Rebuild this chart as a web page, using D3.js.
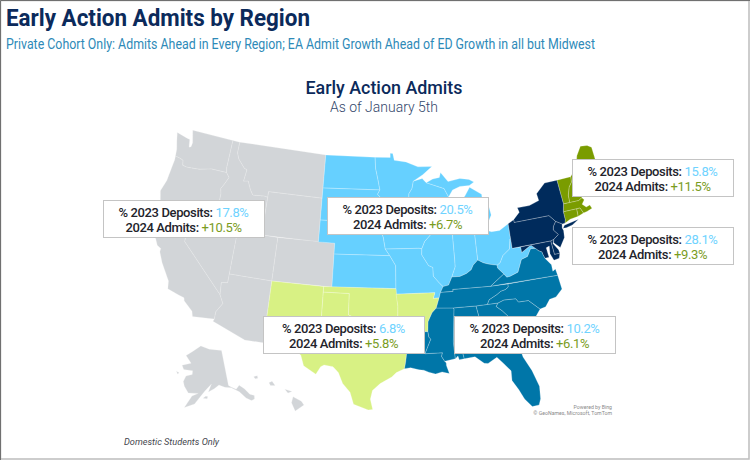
<!DOCTYPE html>
<html>
<head>
<meta charset="utf-8">
<script src="https://cdn.jsdelivr.net/npm/d3@7"></script>
<style>
	html, body { margin: 0; padding: 0; background: #fff; }
	svg { display: block; font-family: Roboto, sans-serif; }
</style>
</head>
<body>
<div id="chart"></div>
<script>
// region values
var regionNames = ['West', 'Midwest', 'New England', 'Mid-Atlantic', 'Southwest', 'Southeast'];
var deposits2023 = ['17.8%', '20.5%', '15.8%', '28.1%', '6.8%', '10.2%'];
var admits2024 = ['+10.5%', '+6.7%', '+11.5%', '+9.3%', '+5.8%', '+6.1%'];

// which state belongs to which region
var westStates = ['WA', 'OR', 'CA', 'NV', 'ID', 'MT', 'WY', 'UT', 'AZ', 'CO', 'AK', 'HI'];
var midwestStates = ['ND', 'SD', 'NE', 'KS', 'MN', 'IA', 'MO', 'WI', 'IL', 'IN', 'MI', 'OH', 'WV'];
var newEnglandStates = ['ME', 'NH', 'VT', 'MA', 'CT', 'RI'];
var midAtlanticStates = ['NY', 'PA', 'NJ', 'DE', 'MD'];
var southwestStates = ['NM', 'TX', 'OK', 'AR'];
var southeastStates = ['LA', 'MS', 'AL', 'GA', 'FL', 'SC', 'NC', 'TN', 'KY', 'VA'];

// rough state outlines, lon/lat
var stateOutlines = {
	WA: [[[-124.7,48.4],[-123.2,48.15],[-122.8,48.1],[-122.6,47.4],[-122.35,47.5],[-122.3,47.9],[-122.75,49],[-117.03,49],[-117.04,46.42],[-116.92,45.995],[-118.98,46],[-119.3,45.93],[-120.5,45.7],[-121.2,45.65],[-122.2,45.58],[-122.75,45.65],[-122.9,46.1],[-123.4,46.2],[-124,46.27],[-124.1,46.9],[-124.4,47.6]]],
	OR: [[[-124,46.27],[-123.4,46.2],[-122.9,46.1],[-122.75,45.65],[-122.2,45.58],[-121.2,45.65],[-120.5,45.7],[-119.3,45.93],[-118.98,46],[-116.92,45.995],[-116.46,45.6],[-116.85,44.95],[-117.2,44.45],[-117.03,44],[-117.03,42],[-124.2,42],[-124.55,42.84],[-124.15,43.9],[-124.05,45],[-123.95,45.9]]],
	CA: [[[-124.2,42],[-120,42],[-120,39],[-114.63,35],[-114.13,34.26],[-114.72,33.4],[-114.72,32.72],[-117.12,32.53],[-117.3,33],[-118.4,33.75],[-118.5,34.03],[-119.2,34.15],[-120.5,34.45],[-120.65,35.15],[-121.9,36.6],[-122.5,37.5],[-122.5,37.8],[-123,38],[-123.75,39],[-123.85,39.8],[-124.35,40.4],[-124.1,41]]],
	NV: [[[-120,42],[-114.04,42],[-114.04,36.2],[-114.75,36.1],[-114.63,35],[-120,39]]],
	ID: [[[-117.03,49],[-116.05,49],[-116.05,48],[-115.7,47.45],[-114.7,46.7],[-114.35,46.65],[-114.5,45.55],[-113.9,45.65],[-113.45,44.95],[-113,44.45],[-111.5,44.55],[-111.05,44.48],[-111.05,42],[-117.03,42],[-117.03,44],[-117.2,44.45],[-116.85,44.95],[-116.46,45.6],[-116.92,45.995],[-117.04,46.42]]],
	MT: [[[-116.05,49],[-104.05,49],[-104.05,45],[-111.05,45],[-111.05,44.48],[-111.5,44.55],[-113,44.45],[-113.45,44.95],[-113.9,45.65],[-114.5,45.55],[-114.35,46.65],[-114.7,46.7],[-115.7,47.45],[-116.05,48]]],
	WY: [[[-111.05,45],[-104.05,45],[-104.05,41],[-111.05,41]]],
	UT: [[[-114.04,42],[-111.05,42],[-111.05,41],[-109.05,41],[-109.05,37],[-114.04,37]]],
	AZ: [[[-114.04,37],[-109.05,37],[-109.05,31.33],[-111.07,31.33],[-114.82,32.5],[-114.72,32.72],[-114.72,33.4],[-114.13,34.26],[-114.63,35],[-114.75,36.1],[-114.04,36.2]]],
	CO: [[[-109.05,41],[-102.05,41],[-102.05,37],[-109.05,37]]],
	NM: [[[-109.05,37],[-103,37],[-103,32],[-106.62,32],[-106.53,31.78],[-108.2,31.78],[-108.2,31.33],[-109.05,31.33]]],
	OK: [[[-103,37],[-94.62,37],[-94.43,35.4],[-94.48,33.64],[-95.5,33.9],[-96.6,33.85],[-97.2,33.9],[-98.1,34.13],[-99.2,34.3],[-100,34.56],[-100,36.5],[-103,36.5]]],
	TX: [[[-103,36.5],[-100,36.5],[-100,34.56],[-99.2,34.3],[-98.1,34.13],[-97.2,33.9],[-96.6,33.85],[-95.5,33.9],[-94.48,33.64],[-94.04,33.55],[-94.04,33.02],[-94.04,31.99],[-93.55,31.2],[-93.7,30.3],[-93.84,29.7],[-94.7,29.35],[-95.2,28.95],[-96.4,28.35],[-97.2,27.7],[-97.4,26.9],[-97.15,25.96],[-97.6,25.9],[-99.1,26.4],[-99.5,27.5],[-100.3,28.28],[-100.8,29.25],[-101.4,29.77],[-102.35,29.87],[-102.7,29.7],[-103.15,28.98],[-104.5,29.65],[-104.9,30.6],[-106.53,31.78],[-106.62,32],[-103,32]]],
	AR: [[[-94.62,36.5],[-90.15,36.5],[-90.37,35.99],[-89.7,36],[-90.1,35.1],[-90.6,34.7],[-91.1,33.9],[-91.17,33],[-94.04,33.02],[-94.04,33.55],[-94.48,33.64],[-94.43,35.4]]],
	LA: [[[-94.04,33.02],[-91.17,33],[-91.1,32.5],[-90.9,32.3],[-91.6,31],[-89.73,31],[-89.85,30.67],[-89.55,30.2],[-89.4,30.05],[-89.4,29.8],[-89.15,29.05],[-89.9,29.25],[-90.6,29.1],[-91.3,29.3],[-91.8,29.5],[-92.3,29.55],[-93.2,29.77],[-93.84,29.7],[-93.7,30.3],[-93.55,31.2],[-94.04,31.99]]],
	MS: [[[-90.1,35.1],[-88.2,35],[-88.1,34.9],[-88.47,31.9],[-88.4,30.37],[-89.55,30.2],[-89.85,30.67],[-89.73,31],[-91.6,31],[-90.9,32.3],[-91.1,32.5],[-91.17,33],[-91.1,33.9],[-90.6,34.7]]],
	AL: [[[-88.2,35],[-85.6,34.98],[-85.18,32.87],[-85,32.3],[-85.05,31.5],[-85,31],[-87.6,31],[-87.45,30.3],[-88,30.25],[-88.1,30.6],[-88.4,30.37],[-88.47,31.9],[-88.1,34.9]]],
	GA: [[[-85.6,34.98],[-83.1,35],[-83.35,34.7],[-82.75,34.25],[-81.9,33.4],[-81.4,32.6],[-81.1,32.1],[-80.85,32.03],[-81.3,31.2],[-81.45,30.72],[-82.05,30.37],[-82.2,30.57],[-84.86,30.7],[-85,31],[-85.05,31.5],[-85,32.3],[-85.18,32.87]]],
	FL: [[[-87.6,31],[-85,31],[-84.86,30.7],[-82.2,30.57],[-82.05,30.37],[-81.45,30.72],[-81.25,29.8],[-80.55,28.45],[-80.05,26.9],[-80.15,25.75],[-80.4,25.2],[-81.1,25.15],[-81.75,25.95],[-82.2,26.9],[-82.75,27.8],[-82.7,28.7],[-83.4,29.5],[-84,30.1],[-85,29.65],[-85.4,29.7],[-86.3,30.38],[-87.45,30.3]]],
	SC: [[[-83.35,34.7],[-83.1,35],[-82.4,35.2],[-81.05,35.15],[-80.8,34.82],[-79.67,34.8],[-78.55,33.85],[-79.2,33.2],[-80.4,32.5],[-80.85,32.03],[-81.1,32.1],[-81.4,32.6],[-81.9,33.4],[-82.75,34.25]]],
	NC: [[[-84.32,35],[-83.1,35],[-82.4,35.2],[-81.05,35.15],[-80.8,34.82],[-79.67,34.8],[-78.55,33.85],[-77.9,33.95],[-77.3,34.55],[-76.55,34.65],[-75.7,35.25],[-75.85,36.55],[-81.68,36.59],[-81.7,36.3],[-82.05,36.12],[-82.6,36.03],[-83.1,35.77],[-84.05,35.4]]],
	TN: [[[-90.1,35.1],[-89.7,36],[-89.5,36.5],[-88.05,36.5],[-88.07,36.68],[-83.68,36.6],[-81.68,36.59],[-81.7,36.3],[-82.05,36.12],[-82.6,36.03],[-83.1,35.77],[-84.05,35.4],[-84.32,35],[-85.6,34.98],[-88.2,35]]],
	KY: [[[-89.5,36.5],[-89.15,37],[-88.5,37.1],[-88.05,37.8],[-87.1,37.8],[-86.3,38],[-85.7,38.3],[-85.4,38.7],[-84.8,39.1],[-84.2,38.8],[-83.65,38.63],[-82.6,38.4],[-82.6,38.15],[-81.97,37.54],[-83.68,36.6],[-88.07,36.68],[-88.05,36.5]]],
	VA: [[[-83.68,36.6],[-75.85,36.55],[-75.95,37.15],[-76.3,37],[-76.3,37.6],[-76.9,38.3],[-77.05,38.7],[-77.1,38.9],[-77.5,39.1],[-77.75,39.32],[-78.35,39.4],[-78.87,38.76],[-79.65,38.58],[-80.3,37.5],[-81.25,37.25],[-81.68,37.2],[-81.97,37.54]]],
	WV: [[[-82.6,38.4],[-82.2,38.6],[-81.75,39.2],[-80.85,39.7],[-80.6,40.6],[-80.52,40.64],[-80.52,39.72],[-79.48,39.72],[-79.48,39.2],[-78.4,39.65],[-78.2,39.68],[-77.75,39.32],[-78.35,39.4],[-78.87,38.76],[-79.65,38.58],[-80.3,37.5],[-81.25,37.25],[-81.68,37.2],[-81.97,37.54],[-82.6,38.15]]],
	OH: [[[-84.8,41.7],[-83.45,41.73],[-82.7,41.5],[-81.7,41.5],[-80.52,41.98],[-80.52,40.64],[-80.6,40.6],[-80.85,39.7],[-81.75,39.2],[-82.2,38.6],[-82.6,38.4],[-83.65,38.63],[-84.2,38.8],[-84.8,39.1]]],
	IN: [[[-87.53,41.72],[-86.8,41.76],[-84.8,41.7],[-84.8,39.1],[-85.4,38.7],[-85.7,38.3],[-86.3,38],[-87.1,37.8],[-88.05,37.8],[-87.55,38.7],[-87.53,39.35]]],
	IL: [[[-87.53,41.72],[-87.53,39.35],[-87.55,38.7],[-88.05,37.8],[-88.5,37.1],[-89.15,37],[-89.5,37.3],[-90.2,38],[-90.2,38.8],[-90.7,39],[-91.45,40],[-91.4,40.55],[-91,41.2],[-90.2,41.8],[-90.65,42.5],[-87.8,42.5],[-87.65,42]]],
	MI: [[[-86.8,41.76],[-84.8,41.7],[-83.45,41.73],[-83.1,42.2],[-82.45,43],[-82.6,43.85],[-83.4,43.95],[-83.9,43.65],[-83.3,44.3],[-83.3,45],[-84.75,45.78],[-85.5,45],[-86.2,44.7],[-86.5,43.7],[-86.2,42.7]],
		[[-90.4,46.55],[-88.1,45.9],[-87.6,45.1],[-87,45.7],[-86,45.95],[-84.75,45.95],[-84.1,46.2],[-84.7,46.5],[-85.9,46.68],[-87.5,46.5],[-88.4,47.4],[-88.6,46.95],[-89.5,46.85]]],
	WI: [[[-92.1,46.75],[-90.9,46.95],[-90.4,46.55],[-88.1,45.9],[-87.6,45.1],[-88,44.55],[-87.4,44.9],[-87.55,44.2],[-87.9,43],[-87.8,42.5],[-90.65,42.5],[-91.15,42.9],[-91.25,43.5],[-91.9,44.3],[-92.8,44.75],[-92.75,45.6],[-92.3,46.1]]],
	MN: [[[-97.23,49],[-95.15,49],[-95.15,49.38],[-94.8,49.35],[-94.6,48.72],[-93,48.55],[-91.4,48.05],[-89.5,48],[-90.8,47.3],[-92.1,46.75],[-92.3,46.1],[-92.75,45.6],[-92.8,44.75],[-91.9,44.3],[-91.25,43.5],[-96.45,43.5],[-96.45,45.3],[-96.85,45.6],[-96.55,46],[-96.8,46.9],[-97.15,48]]],
	IA: [[[-91.25,43.5],[-96.45,43.5],[-96.6,42.5],[-96.1,41.7],[-95.85,40.6],[-91.73,40.6],[-91.4,40.55],[-91,41.2],[-90.2,41.8],[-90.65,42.5],[-91.15,42.9]]],
	MO: [[[-95.85,40.6],[-91.73,40.6],[-91.4,40.55],[-91.45,40],[-90.7,39],[-90.2,38.8],[-90.2,38],[-89.5,37.3],[-89.15,37],[-89.5,36.5],[-89.7,36],[-90.37,35.99],[-90.15,36.5],[-94.62,36.5],[-94.62,39.1],[-95.3,40]]],
	KS: [[[-102.05,40],[-95.3,40],[-94.62,39.1],[-94.62,37],[-102.05,37]]],
	NE: [[[-104.05,43],[-98.5,43],[-97.9,42.8],[-96.6,42.5],[-96.1,41.7],[-95.85,40.6],[-95.3,40],[-102.05,40],[-102.05,41],[-104.05,41]]],
	SD: [[[-104.05,45.94],[-96.55,46],[-96.85,45.6],[-96.45,45.3],[-96.45,43.5],[-96.6,42.5],[-97.9,42.8],[-98.5,43],[-104.05,43]]],
	ND: [[[-104.05,49],[-97.23,49],[-97.15,48],[-96.8,46.9],[-96.55,46],[-104.05,45.94]]],
	PA: [[[-80.52,41.98],[-79.76,42.27],[-79.76,42],[-75.35,42],[-74.7,41.36],[-75.1,40.95],[-75.2,40.65],[-74.72,40.15],[-75.4,39.8],[-75.8,39.72],[-80.52,39.72]]],
	NY: [[[-79.76,42.27],[-78.9,42.85],[-79.05,43.27],[-77.5,43.27],[-76.2,43.55],[-76.3,44.2],[-75,45],[-73.35,45],[-73.3,43.7],[-73.25,42.75],[-73.5,42.05],[-73.5,41.3],[-73.65,41],[-74,41],[-74.7,41.36],[-75.35,42],[-79.76,42]],
		[[-74,40.6],[-73.75,40.85],[-72.6,40.98],[-71.9,41.07],[-72.8,40.7],[-73.6,40.58]]],
	NJ: [[[-74.7,41.36],[-74,41],[-74.1,40.65],[-74,40.4],[-74.1,39.75],[-74.85,38.95],[-75.5,39.5],[-75.4,39.8],[-74.72,40.15],[-75.2,40.65],[-75.1,40.95]]],
	DE: [[[-75.8,39.72],[-75.4,39.8],[-75.6,39.45],[-75.1,38.8],[-75.05,38.45],[-75.7,38.46]]],
	MD: [[[-79.48,39.72],[-75.8,39.72],[-75.7,38.46],[-75.05,38.45],[-75.25,38.03],[-75.9,37.95],[-76.2,38.6],[-76.1,39.3],[-76.5,39.2],[-76.4,38.3],[-76.9,38.3],[-77.05,38.7],[-77.1,38.9],[-77.5,39.1],[-77.75,39.32],[-78.2,39.68],[-78.4,39.65],[-79.48,39.2]]],
	VT: [[[-73.35,45],[-71.5,45],[-71.6,44.5],[-72.05,44.1],[-72.4,43.4],[-72.46,42.73],[-73.25,42.75],[-73.3,43.7]]],
	NH: [[[-71.5,45],[-71.1,45.3],[-70.95,43.35],[-70.7,43.07],[-70.82,42.87],[-71.3,42.7],[-72.46,42.73],[-72.4,43.4],[-72.05,44.1],[-71.6,44.5]]],
	ME: [[[-71.1,45.3],[-70.4,45.8],[-70.25,46.2],[-70,46.7],[-69.2,47.45],[-68.3,47.35],[-67.8,47.07],[-67.8,45.7],[-67.45,45.2],[-67,44.85],[-68.5,44.3],[-69.1,44],[-70.2,43.6],[-70.7,43.07],[-70.95,43.35]]],
	MA: [[[-73.5,42.05],[-73.25,42.75],[-72.46,42.73],[-71.3,42.7],[-70.82,42.87],[-70.6,42.65],[-71,42.3],[-70.6,41.95],[-70.1,42.05],[-69.95,41.7],[-70.65,41.55],[-71.12,41.5],[-71.38,42.02],[-71.8,42.02]]],
	RI: [[[-71.8,42.02],[-71.38,42.02],[-71.12,41.5],[-71.85,41.32]]],
	CT: [[[-73.5,42.05],[-71.8,42.02],[-71.85,41.32],[-72.9,41.25],[-73.65,41],[-73.5,41.3]]],
	AK: [[[-141,69.65],[-141,60.3],[-139.8,59.75],[-137.5,58.9],[-135.5,59.7],[-133.5,58.4],[-131.8,56.6],[-130,55.9],[-130.5,55],[-132,54.9],[-134,56],[-136.3,58],[-139.8,59.55],[-143,60],[-146,60.8],[-148.5,60],[-151.8,59.2],[-150,61.2],[-153.5,59.5],[-156,57.9],[-158.5,56],[-163,54.8],[-160,58],[-157,58.8],[-162,58.7],[-164.5,60.3],[-165.5,61.5],[-164.5,63],[-161,63.6],[-161,64.6],[-166.5,64.6],[-168,65.6],[-162.5,66.5],[-166.7,68.3],[-163,69.5],[-156.6,71.3],[-150,70.4]],
		[[-154.5,57.6],[-152.5,57.4],[-152.2,58],[-153.2,58.1]],
		[[-170.6,63.7],[-168.8,63.5],[-169.5,63.1]]],
	HI: [[[-155.9,20.25],[-155.1,19.85],[-154.85,19.5],[-155.7,18.95],[-156.05,19.7]],
		[[-156.7,20.95],[-156,20.75],[-156.4,20.6]],
		[[-158.25,21.55],[-157.95,21.7],[-157.65,21.3],[-158.1,21.3]],
		[[-159.75,22.1],[-159.4,22.2],[-159.35,21.95],[-159.6,21.9]]]
};

var regionStates = [westStates, midwestStates, newEnglandStates, midAtlanticStates, southwestStates, southeastStates];
var regionColors = ['#d2d5d8', '#66d0ff', '#7a9c00', '#002b5c', '#d8f184', '#0076a8'];

var width = 750, height = 460;

var svg = d3.select('#chart').append('svg')
	.attr('width', width)
	.attr('height', height);

// frame, dark on top and left, light on the other two
svg.append('rect').attr('x', 0.5).attr('y', 0.5).attr('width', width - 1.5).attr('height', height - 1.5)
	.attr('fill', '#fff').attr('stroke', '#bdbdbd').attr('stroke-width', 1.5);
svg.append('path').attr('d', 'M0.5,' + height + 'V0.5H' + width).attr('fill', 'none').attr('stroke', '#707070');

// headings
function heading(txt, x, y, size, weight, color, len, anchor) {
	svg.append('text').attr('x', x).attr('y', y)
		.attr('font-size', size).attr('font-weight', weight).attr('fill', color)
		.attr('text-anchor', anchor || 'start')
		.attr('textLength', len).attr('lengthAdjust', 'spacingAndGlyphs')
		.text(txt);
}
heading('Early Action Admits by Region', 6, 26, 24, 700, '#0b2a5b', 304);
heading('Private Cohort Only: Admits Ahead in Every Region; EA Admit Growth Ahead of ED Growth in all but Midwest', 6, 49, 15, 400, '#2e8ab8', 589);
heading('Early Action Admits', 384, 94, 18.5, 500, '#0b2a5b', 157, 'middle');
heading('As of January 5th', 384, 112, 14.5, 300, '#33476b', 108, 'middle');

// map: lower 48 plus the two insets, same layout as albersUsa but the insets can be nudged
var mapScale = 625;
var mainProjection = d3.geoAlbers().rotate([96, 0]).center([-0.6, 38.7]).parallels([29.5, 45.5])
	.scale(mapScale).translate([379, 270]);
var alaskaProjection = d3.geoConicEqualArea().rotate([154, 0]).center([-2, 58.5]).parallels([55, 65])
	.scale(mapScale * 0.35).translate([379 - 0.307 * mapScale + 13, 270 + 0.201 * mapScale - 1]);
var hawaiiProjection = d3.geoConicEqualArea().rotate([157, 0]).center([-3, 19.9]).parallels([8, 18])
	.scale(mapScale).translate([379 - 0.205 * mapScale, 270 + 0.212 * mapScale - 2]);

// d3 wants exterior rings clockwise, fix any that came out the other way
function stateFeature(code) {
	var rings = stateOutlines[code].map(function(r) {
		var ring = r.concat([r[0]]);
		if (d3.geoArea({type: 'Polygon', coordinates: [ring]}) > 2 * Math.PI) ring.reverse();
		return [ring];
	});
	return {type: 'MultiPolygon', coordinates: rings};
}

function statePath(code) {
	var projection = code === 'AK' ? alaskaProjection : code === 'HI' ? hawaiiProjection : mainProjection;
	return d3.geoPath(projection)(stateFeature(code));
}

var mapLayer = svg.append('g');
regionStates.forEach(function(codes, i) {
	mapLayer.selectAll('.st' + i)
		.data(codes)
		.enter().append('path')
		.attr('class', 'st' + i)
		.attr('d', statePath)
		.attr('fill', regionColors[i])
		.attr('stroke', i === 0 ? '#f2f3f4' : '#fff')
		.attr('stroke-opacity', 0.4)
		.attr('stroke-width', 0.6);
});

// callouts
var calloutLeft = [103, 327, 572, 572, 263, 454];
var calloutTop = [200, 197, 159, 227, 316, 316];
var calloutW = 161, calloutH = 37;

var callouts = svg.selectAll('.callout')
	.data(regionNames)
	.enter().append('g')
	.attr('class', 'callout')
	.attr('transform', function(d, i) { return 'translate(' + calloutLeft[i] + ',' + calloutTop[i] + ')'; });

callouts.append('rect')
	.attr('x', 0.5).attr('y', 0.5)
	.attr('width', calloutW).attr('height', calloutH)
	.attr('fill', '#fff')
	.attr('stroke', '#c4c4c4')
	.attr('stroke-width', 1);

var line1 = callouts.append('text')
	.attr('x', calloutW / 2).attr('y', 16.5)
	.attr('text-anchor', 'middle').attr('font-size', 13).attr('letter-spacing', -0.38).attr('font-weight', 500).attr('fill', '#23232b');
line1.append('tspan').text('% 2023 Deposits: ');
line1.append('tspan').attr('fill', '#6fd3ff').attr('font-weight', 400).text(function(d, i) { return deposits2023[i]; });

var line2 = callouts.append('text')
	.attr('x', calloutW / 2).attr('y', 31.5)
	.attr('text-anchor', 'middle').attr('font-size', 13).attr('letter-spacing', -0.38).attr('font-weight', 500).attr('fill', '#23232b');
line2.append('tspan').text('2024 Admits: ');
line2.append('tspan').attr('fill', '#7a9c1e').attr('font-weight', 400).text(function(d, i) { return admits2024[i]; });

// notes
svg.append('text').attr('x', 124).attr('y', 445)
	.attr('font-size', 9.2).attr('font-style', 'italic').attr('fill', '#44464d')
	.text('Domestic Students Only');
svg.append('text').attr('x', 612).attr('y', 409)
	.attr('text-anchor', 'end').attr('font-size', 5.2).attr('fill', '#8a8a8a')
	.text('Powered by Bing');
svg.append('text').attr('x', 612).attr('y', 415)
	.attr('text-anchor', 'end').attr('font-size', 5.2).attr('fill', '#8a8a8a')
	.text('© GeoNames, Microsoft, TomTom');
</script>
</body>
</html>
